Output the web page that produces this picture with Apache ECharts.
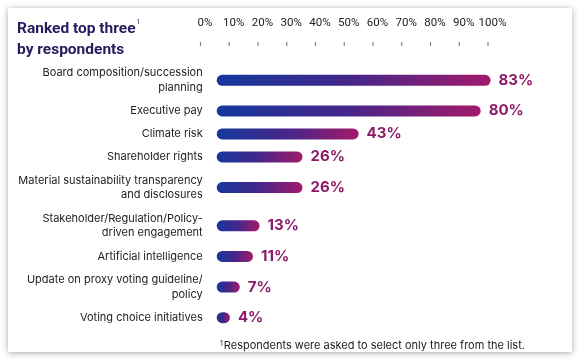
<!DOCTYPE html>
<html><head><meta charset="utf-8">
<script src="https://cdn.jsdelivr.net/npm/echarts@6/dist/echarts.min.js"></script>
<style>html,body{margin:0;padding:0;background:#fff}#c{width:580px;height:361px}</style>
</head><body><div id="c"></div>
<script>
const categories = [
  'Board composition/succession\nplanning',
  'Executive pay',
  'Climate risk',
  'Shareholder rights',
  'Material sustainability transparency\nand disclosures',
  'Stakeholder/Regulation/Policy-\ndriven engagement',
  'Artificial intelligence',
  'Update on proxy voting guideline/\npolicy',
  'Voting choice initiatives'
];
const values = [83, 80, 43, 26, 26, 13, 11, 7, 4];
const tickValues = [0, 10, 20, 30, 40, 50, 60, 70, 80, 90, 100];
const titleLines = ['Ranked top three', 'by respondents'];
const footnote = 'Respondents were asked to select only three from the list.';

// rows with two-line labels take more vertical room
const slotCats = [], slotVals = [];
categories.forEach((c, i) => {
  const units = c.includes('\n') ? 5 : 3;
  const mid = (units - 1) / 2;
  for (let k = 0; k < units; k++) {
    slotCats.push(k === mid ? c : '');
    slotVals.push(k === mid ? values[i] : '-');
  }
});

const tickMin = tickValues[0], tickMax = tickValues[tickValues.length - 1];
const tickStep = tickValues[1] - tickValues[0];

const chart = echarts.init(document.getElementById('c'), null, {renderer: 'canvas'});
const FONT = 'Inter';
chart.setOption({
  animation: false,
  graphic: [{
    type: 'rect', z: -10, silent: true,
    shape: {x: 8, y: 8, width: 564, height: 344},
    style: {fill: '#fff', shadowBlur: 6, shadowColor: 'rgba(0,0,0,0.35)', shadowOffsetX: 0, shadowOffsetY: 1}
  }],
  title: [{
    text: titleLines[0] + '{sup|1}\n' + titleLines[1],
    left: 12, top: 14,
    textStyle: {
      fontFamily: 'Roboto', fontSize: 15.5, fontWeight: 'bold', color: '#2a1a5e', lineHeight: 21,
      rich: {sup: {fontSize: 7, fontWeight: 'normal', color: '#2a1a5e', verticalAlign: 'top', lineHeight: 21, padding: [0, 0, 8, 1]}}
    }
  }, {
    text: '{s|1}' + footnote,
    left: 215, top: 335,
    textStyle: {
      fontFamily: FONT, fontSize: 11, fontWeight: 'normal', color: '#222',
      rich: {s: {fontSize: 7, color: '#222', padding: [0, 1, 5, 0]}}
    }
  }],
  grid: [
    {left: 205, width: 287.5, top: 42, height: 4},
    {left: 216.7, right: 33.3, top: 61.2, height: 268},
    {left: 200.5, width: 287.5, top: 40, height: 8}
  ],
  xAxis: [{
    gridIndex: 0, type: 'value', position: 'top', min: tickMin, max: tickMax, interval: tickStep,
    axisLine: {show: false}, axisTick: {show: false}, splitLine: {show: false},
    axisLabel: {formatter: v => v + '%', fontFamily: 'Roboto', fontSize: 11.5, color: '#222', margin: 13,
      showMaxLabel: true, showMinLabel: true, hideOverlap: false}
  }, {
    gridIndex: 1, type: 'value', min: 0, max: 100, show: false
  }, {
    gridIndex: 2, type: 'value', min: tickMin, max: tickMax, show: false
  }],
  yAxis: [{
    gridIndex: 0, type: 'value', show: false
  }, {
    gridIndex: 1, type: 'category', inverse: true, data: slotCats,
    axisLine: {show: false}, axisTick: {show: false}, splitLine: {show: false},
    axisLabel: {interval: 0, fontFamily: FONT, fontSize: 11, color: '#222', margin: 14, lineHeight: 14.5, align: 'right'}
  }, {
    gridIndex: 2, type: 'value', min: 0, max: 1, show: false
  }],
  series: [{
    type: 'bar', xAxisIndex: 1, yAxisIndex: 1, data: slotVals, barWidth: 11,
    itemStyle: {
      borderRadius: 5.5,
      color: new echarts.graphic.LinearGradient(0, 0, 1, 0, [
        {offset: 0, color: '#14389d'}, {offset: 0.5, color: '#47268a'}, {offset: 1, color: '#a21a6a'}
      ])
    },
    label: {
      show: true, position: 'right', distance: 8, formatter: p => p.value + '%',
      fontFamily: FONT, fontSize: 15, fontWeight: 'bold', color: '#8c1a68'
    }
  }, {
    type: 'scatter', xAxisIndex: 2, yAxisIndex: 2, silent: true,
    data: tickValues.map(v => [v, 0.5]),
    symbol: 'rect', symbolSize: [1.2, 4],
    itemStyle: {color: '#666'}
  }]
});
</script></body></html>
